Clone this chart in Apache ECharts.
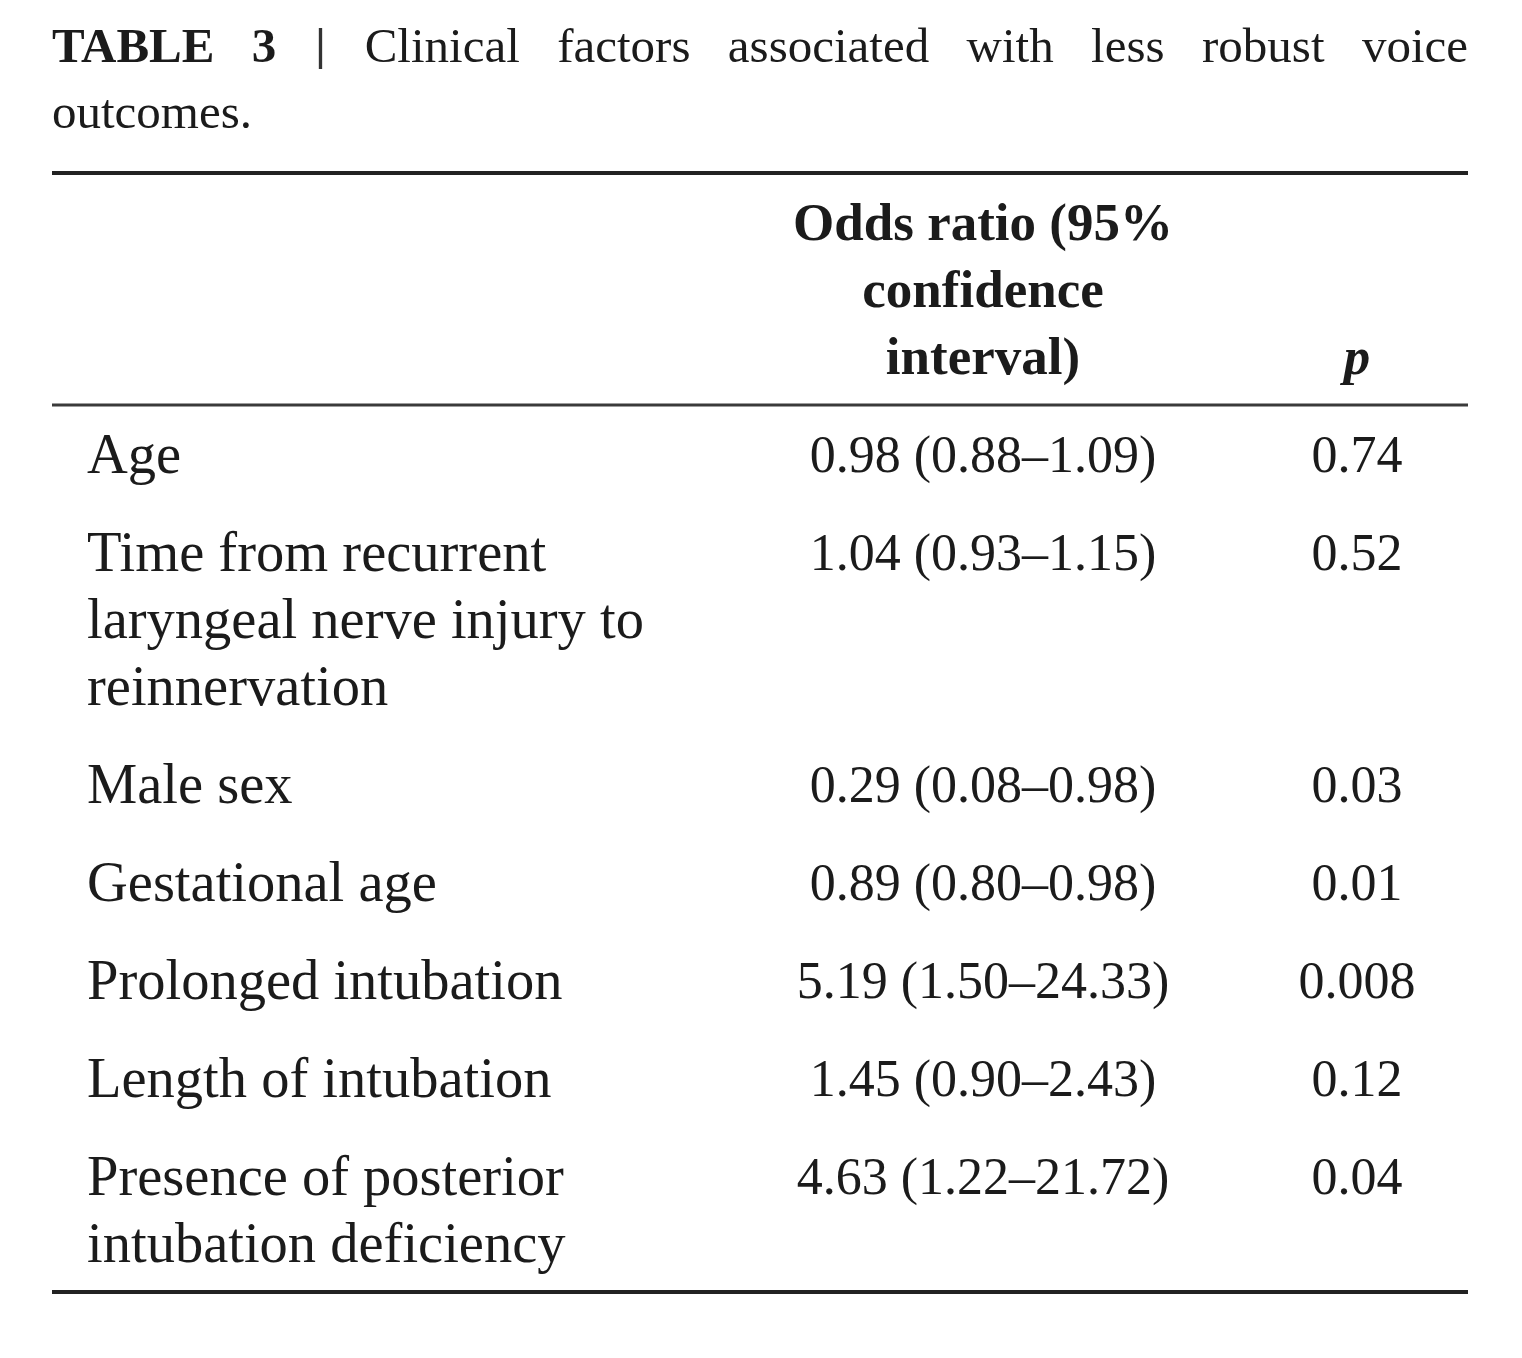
<!DOCTYPE html>
<html><head><meta charset="utf-8">
<script src="https://cdn.jsdelivr.net/npm/echarts@6/dist/echarts.min.js"></script>
<style>html,body{margin:0;padding:0;background:#fff}#c{width:1522px;height:1358px}</style>
</head><body><div id="c"></div>
<script>
// ---------- data ----------
const titleLabel = ['TABLE', '3'];
const titleWords = ['Clinical', 'factors', 'associated', 'with', 'less', 'robust', 'voice'];
const titleLastLine = 'outcomes.';
const headerOdds = ['Odds ratio (95%', 'confidence', 'interval)'];
const headerP = 'p';
const factors = [
  ['Age'],
  ['Time from recurrent', 'laryngeal nerve injury to', 'reinnervation'],
  ['Male sex'],
  ['Gestational age'],
  ['Prolonged intubation'],
  ['Length of intubation'],
  ['Presence of posterior', 'intubation deficiency']
];
const oddsRatio = [0.98, 1.04, 0.29, 0.89, 5.19, 1.45, 4.63];
const ciLow     = [0.88, 0.93, 0.08, 0.80, 1.50, 0.90, 1.22];
const ciHigh    = [1.09, 1.15, 0.98, 0.98, 24.33, 2.43, 21.72];
const pValues   = ['0.74', '0.52', '0.03', '0.01', '0.008', '0.12', '0.04'];

// ---------- layout ----------
const SERIF = '"Liberation Serif", "DejaVu Serif", serif';
const INK = '#1b1b1b';
const TABLE_W = 1416;          // grid width (px units on x axis)
const TABLE_H = 1120;          // grid height (px units on y axis)
const COL_X = [35, 931, 1305]; // label left, odds centre, p centre
const LINE = 67, ROWGAP = 98, RULE_OFF = 49, TEXT_DY = 4;
const FS_LABEL = 56.5, FS_NUM = 52, FS_HEAD = 53;

const cells = [];
const rules = [];
let y = 0;
rules.push({ y: y, w: 4, c: '#222' });
y += RULE_OFF;
headerOdds.forEach((t, i) => cells.push({ x: COL_X[1], y: y + i * LINE, text: t, align: 'center', font: 'bold ' + FS_HEAD + 'px ' + SERIF }));
cells.push({ x: COL_X[2], y: y + (headerOdds.length - 1) * LINE, text: headerP, align: 'center', font: 'italic bold ' + FS_HEAD + 'px ' + SERIF });
y += (headerOdds.length - 1) * LINE + RULE_OFF;
rules.push({ y: y, w: 3, c: '#3a3a3a' });
y += RULE_OFF;
factors.forEach((lines, r) => {
  if (r > 0) y += ROWGAP;
  lines.forEach((t, i) => cells.push({ x: COL_X[0], y: y + i * LINE, text: t, align: 'left', font: FS_LABEL + 'px ' + SERIF }));
  const ci = oddsRatio[r].toFixed(2) + ' (' + ciLow[r].toFixed(2) + '\u2013' + ciHigh[r].toFixed(2) + ')';
  cells.push({ x: COL_X[1], y: y, text: ci, align: 'center', font: FS_NUM + 'px ' + SERIF });
  cells.push({ x: COL_X[2], y: y, text: pValues[r], align: 'center', font: FS_NUM + 'px ' + SERIF });
  y += (lines.length - 1) * LINE;
});
y += RULE_OFF;
rules.push({ y: y, w: 4, c: '#222' });

// ---------- title (justified first line) ----------
const GRID_LEFT = 52, TITLE_Y1 = 49, TITLE_Y2 = 115;
const FS_TITLE = 49;
const measure = (() => { const cv = document.createElement('canvas').getContext('2d'); return (t, f) => { cv.font = f; return cv.measureText(t).width; }; })();
const tokens = [
  { t: titleLabel[0], f: 'bold ' + FS_TITLE + 'px ' + SERIF, fill: INK },
  { t: titleLabel[1], f: 'bold ' + FS_TITLE + 'px ' + SERIF, fill: INK },
  { t: '|', f: '40px ' + '"DejaVu Sans", sans-serif', fill: '#333' }
].concat(titleWords.map(w => ({ t: w, f: FS_TITLE + 'px ' + SERIF, fill: INK })));
const widths = tokens.map(k => measure(k.t, k.f));
const gap = (TABLE_W - widths.reduce((a, b) => a + b, 0)) / (tokens.length - 1);
const titleGraphics = [];
let tx = GRID_LEFT;
tokens.forEach((k, i) => {
  titleGraphics.push({ type: 'text', x: tx, y: TITLE_Y1, style: { text: k.t, font: k.f, fill: k.fill, align: 'left', verticalAlign: 'middle' } });
  tx += widths[i] + gap;
});
titleGraphics.push({ type: 'text', x: GRID_LEFT, y: TITLE_Y2, style: { text: titleLastLine, font: FS_TITLE + 'px ' + SERIF, fill: INK, align: 'left', verticalAlign: 'middle' } });

// ---------- chart ----------
const chart = echarts.init(document.getElementById('c'), null, { renderer: 'canvas' });
chart.setOption({
  backgroundColor: '#fff',
  animation: false,
  grid: { left: GRID_LEFT, width: TABLE_W, top: 173, height: TABLE_H },
  xAxis: { type: 'value', min: 0, max: TABLE_W, show: false },
  yAxis: { type: 'value', min: 0, max: TABLE_H, inverse: true, show: false },
  graphic: titleGraphics,
  series: [
    {
      type: 'custom', clip: false, silent: true,
      data: rules.map(r => [0, r.y]),
      renderItem: (params, api) => {
        const r = rules[params.dataIndex];
        const a = api.coord([0, r.y]), b = api.coord([TABLE_W, r.y]);
        return { type: 'rect', shape: { x: a[0], y: a[1] - r.w / 2, width: b[0] - a[0], height: r.w }, style: { fill: r.c } };
      }
    },
    {
      type: 'custom', clip: false, silent: true,
      data: cells.map(c => [c.x, c.y]),
      renderItem: (params, api) => {
        const c = cells[params.dataIndex];
        const p = api.coord([api.value(0), api.value(1) + TEXT_DY]);
        return { type: 'text', x: p[0], y: p[1], style: { text: c.text, font: c.font, fill: INK, align: c.align, verticalAlign: 'middle' } };
      }
    }
  ]
});
</script>
</body></html>
